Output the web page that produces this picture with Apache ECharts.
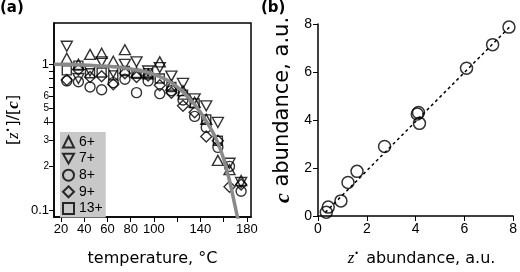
<!DOCTYPE html>
<html>
<head>
<meta charset="utf-8">
<script src="https://cdn.jsdelivr.net/npm/echarts@6/dist/echarts.min.js"></script>
<style>
html, body { margin: 0; padding: 0; background: #fff; }
#chart { width: 520px; height: 272px; }
</style>
</head>
<body>
<div id="chart"></div>
<script>
// panel (a): ratio vs temperature, one list per charge state
const temps = [25, 35, 45, 55, 65, 75, 85, 95, 105, 115, 125, 135, 145, 155, 165, 175];
const ion6  = [1.10, 1.00, 1.17, 1.19, 1.05, 1.26, 0.88, 0.86, 1.04, 0.72, 0.66, 0.55, 0.42, 0.22, 0.19, 0.16];
const ion7  = [1.33, 0.80, 0.90, 1.04, 0.88, 1.00, 1.04, 0.90, 0.95, 0.83, 0.74, 0.58, 0.52, 0.40, 0.21, 0.155];
const ion8  = [0.77, 0.76, 0.70, 0.67, 0.75, 0.79, 0.64, 0.77, 0.63, 0.66, 0.57, 0.44, 0.37, 0.27, 0.20, 0.135];
const ion9  = [0.78, 0.92, 0.82, 0.83, 0.73, 0.87, 0.82, 0.84, 0.72, 0.64, 0.52, 0.47, 0.32, 0.30, 0.145, 0.15];
const ion13 = [0.91, 0.98, 0.87, 0.88, 0.84, 0.90, 0.86, 0.87, 0.80, 0.70, 0.62, 0.54, 0.42, 0.30, null, null];

// gray model curve
const curveT = [14, 30, 45, 60, 75, 90, 100, 110, 120, 130, 140, 150, 155, 160, 165, 170, 173];
const curveV = [1.0, 0.995, 0.985, 0.97, 0.945, 0.9, 0.855, 0.79, 0.7, 0.59, 0.47, 0.35, 0.29, 0.225, 0.16, 0.105, 0.082];

const yTicksA = [0.1, 0.2, 0.3, 0.4, 0.5, 0.6, 0.7, 0.8, 0.9, 1];
const yLabelsA = [0.1, 0.2, 0.3, 0.4, 0.5, 0.6, 1];
const xTicksA = [20, 40, 60, 80, 100, 120, 140, 160, 180];
const xLabelsA = [20, 40, 60, 80, 100, 140, 180];

// panel (b): c vs z abundance
const zAbund = [0.34, 0.42, 0.94, 1.23, 1.60, 2.73, 4.07, 4.12, 4.16, 6.09, 7.16, 7.83];
const cAbund = [0.16, 0.37, 0.63, 1.40, 1.86, 2.90, 4.25, 4.31, 3.86, 6.16, 7.14, 7.87];
const fitX = [0.3, 7.9];
const fitY = [0.15, 7.92];

const chart = echarts.init(document.getElementById('chart'));

const font = 'DejaVu Sans';
const tickFont = 'Liberation Sans';
const downTri = 'path://M0,0 L10,0 L5,9 Z';

function pts(xs, ys) {
  return xs.map((x, i) => [x, ys[i]]).filter(d => d[1] != null);
}

function ionSeries(name, arr, symbol, size) {
  return {
    name: name,
    type: 'scatter',
    xAxisIndex: 0,
    yAxisIndex: 0,
    symbol: symbol,
    symbolSize: size,
    data: pts(temps, arr),
    itemStyle: { color: 'rgba(0,0,0,0)', borderColor: '#000', borderWidth: 1.4 },
    emphasis: { disabled: true }
  };
}

const option = {
  animation: false,
  textStyle: { fontFamily: font, color: '#000' },
  graphic: [
    { type: 'text', left: 0, top: 1, style: { text: '(a)', font: 'bold 15px ' + font, fill: '#000' } },
    { type: 'text', left: 261, top: 1, style: { text: '(b)', font: 'bold 15px ' + font, fill: '#000' } }
  ],
  legend: {
    data: ['6+', '7+', '8+', '9+', '13+'],
    orient: 'vertical',
    left: 60,
    top: 132,
    padding: [3, 3, 2, 2],
    backgroundColor: '#c8c8c8',
    itemWidth: 11,
    itemHeight: 11,
    itemGap: 2.6,
    textStyle: { fontSize: 14, fontFamily: tickFont, color: '#000', lineHeight: 12 }
  },
  grid: [
    { left: 54, right: 269, top: 23, bottom: 52, show: true, borderColor: '#000', borderWidth: 1.5 },
    { left: 318, right: 4, top: 24, bottom: 52 }
  ],
  xAxis: [
    {
      gridIndex: 0, type: 'value', min: 14, max: 183.5,
      axisLine: { show: true, lineStyle: { color: '#000', width: 1.5 } },
      axisTick: { show: true, length: 5, customValues: xTicksA, lineStyle: { color: '#000', width: 1 } },
      axisLabel: { customValues: xLabelsA, fontSize: 13, fontFamily: tickFont, color: '#000', margin: 6 },
      splitLine: { show: false },
      name: 'temperature, °C', nameLocation: 'middle', nameGap: 34,
      nameTextStyle: { fontSize: 16, fontFamily: font, color: '#000' }
    },
    {
      gridIndex: 1, type: 'value', min: 0, max: 8, interval: 2,
      axisLine: { show: true, lineStyle: { color: '#000', width: 1.5 } },
      axisTick: { show: true, length: 5, lineStyle: { color: '#000', width: 1 } },
      axisLabel: { fontSize: 14, fontFamily: tickFont, color: '#000', margin: 6 },
      splitLine: { show: false },
      name: '{i|z}{s|•} abundance, a.u.', nameLocation: 'middle', nameGap: 34,
      nameTextStyle: {
        fontSize: 16, fontFamily: font, color: '#000', padding: [0, 0, 0, 12],
        rich: {
          i: { fontSize: 17, fontFamily: 'Liberation Serif', fontStyle: 'italic' },
          s: { fontSize: 8, verticalAlign: 'top', padding: [0, 2, 6, 0] }
        }
      }
    }
  ],
  yAxis: [
    {
      gridIndex: 0, type: 'log', logBase: 10, min: 0.09, max: 1.92,
      axisLine: { show: true, lineStyle: { color: '#000', width: 1.5 } },
      axisTick: { show: true, length: 5, customValues: yTicksA, lineStyle: { color: '#000', width: 1 } },
      minorTick: { show: false },
      splitLine: { show: false },
      axisLabel: {
        customValues: yLabelsA,
        margin: 5,
        color: '#000',
        formatter: function (v) {
          if (v > 0.95) return '{big|1}';
          if (v < 0.15) return '{big|0.1}';
          return '{sm|' + Math.round(v * 10) + '}';
        },
        rich: {
          big: { fontSize: 13, fontFamily: tickFont },
          sm: { fontSize: 10, fontFamily: tickFont }
        }
      },
      name: '[{i|z}{s|•}]/[{b|c}]', nameLocation: 'middle', nameGap: 32, nameRotate: 90,
      nameTextStyle: {
        fontSize: 16, fontFamily: font, color: '#000',
        rich: {
          i: { fontSize: 17, fontFamily: 'Liberation Serif', fontStyle: 'italic' },
          b: { fontSize: 17, fontFamily: 'Liberation Serif', fontStyle: 'italic', fontWeight: 'bold' },
          s: { fontSize: 8, verticalAlign: 'top', padding: [0, 1, 6, 0] }
        }
      }
    },
    {
      gridIndex: 1, type: 'value', min: 0, max: 8, interval: 2,
      axisLine: { show: true, lineStyle: { color: '#000', width: 1.5 } },
      axisTick: { show: true, length: 5, lineStyle: { color: '#000', width: 1 } },
      axisLabel: { fontSize: 14, fontFamily: tickFont, color: '#000', margin: 6 },
      splitLine: { show: false },
      name: '{b|c} abundance, a.u.', nameLocation: 'middle', nameGap: 24, nameRotate: 90,
      nameTextStyle: {
        fontSize: 21, fontFamily: font, color: '#000', padding: [0, 0, 0, 20],
        rich: {
          b: { fontSize: 22, fontFamily: 'Liberation Serif', fontStyle: 'italic', fontWeight: 'bold' }
        }
      }
    }
  ],
  series: [
    ionSeries('6+', ion6, 'triangle', [11, 10]),
    ionSeries('7+', ion7, downTri, [11, 10]),
    ionSeries('8+', ion8, 'circle', 10),
    ionSeries('9+', ion9, 'diamond', 11),
    ionSeries('13+', ion13, 'rect', 9),
    {
      name: 'model',
      type: 'line',
      xAxisIndex: 0,
      yAxisIndex: 0,
      data: pts(curveT, curveV),
      smooth: 0.4,
      showSymbol: false,
      symbol: 'none',
      clip: true,
      lineStyle: { color: '#8a8a8a', width: 3.5 },
      z: 3
    },
    {
      name: 'fit',
      type: 'line',
      xAxisIndex: 1,
      yAxisIndex: 1,
      data: pts(fitX, fitY),
      symbol: 'none',
      lineStyle: { color: '#000', width: 1.5, type: [3, 3] }
    },
    {
      name: 'abund',
      type: 'scatter',
      xAxisIndex: 1,
      yAxisIndex: 1,
      symbol: 'circle',
      symbolSize: 12,
      data: pts(zAbund, cAbund),
      itemStyle: { color: 'rgba(0,0,0,0)', borderColor: '#000', borderWidth: 1.5 }
    }
  ]
};

chart.setOption(option);
</script>
</body>
</html>
